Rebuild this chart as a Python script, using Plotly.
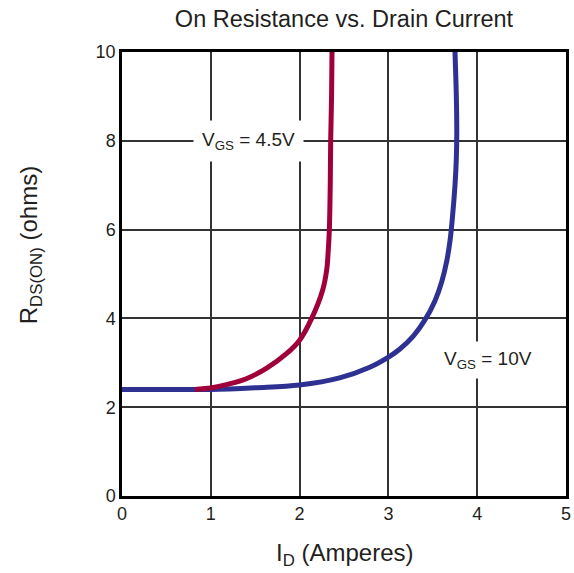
import plotly.graph_objects as go

# Data
blue_x = [0.0, 0.5, 1.0, 1.5, 2.0, 2.45, 2.79, 3.01, 3.13, 3.28, 3.41, 3.525, 3.60, 3.656, 3.694, 3.72, 3.75, 3.765, 3.77, 3.765, 3.75]
blue_y = [2.40, 2.40, 2.40, 2.44, 2.50, 2.66, 2.90, 3.14, 3.31, 3.60, 3.96, 4.40, 4.82, 5.28, 5.75, 6.25, 7.00, 7.60, 8.20, 9.00, 10.0]

red_x = [0.82, 1.01, 1.20, 1.40, 1.63, 1.855, 2.0, 2.136, 2.26, 2.305, 2.323, 2.335, 2.345, 2.35, 2.36, 2.365]
red_y = [2.40, 2.44, 2.52, 2.64, 2.88, 3.21, 3.51, 4.00, 4.64, 5.09, 5.54, 6.00, 7.00, 8.00, 9.00, 10.0]

x_ticks = [0, 1, 2, 3, 4, 5]
y_ticks = [0, 2, 4, 6, 8, 10]

FONT = "Liberation Sans, Arial, sans-serif"
TXT = "#231F20"
BLUE = "#2E3192"
RED = "#A0003A"

fig = go.Figure()
fig.add_trace(go.Scatter(x=blue_x, y=blue_y, mode="lines",
                         line=dict(color=BLUE, width=5, shape="spline", smoothing=1.0),
                         showlegend=False))
fig.add_trace(go.Scatter(x=red_x, y=red_y, mode="lines",
                         line=dict(color=RED, width=5, shape="spline", smoothing=1.0),
                         showlegend=False))

fig.update_layout(
    width=574, height=573,
    margin=dict(l=122, r=3, t=52, b=77),
    paper_bgcolor="white", plot_bgcolor="white",
    font=dict(family=FONT, color=TXT),
    title=dict(text="On Resistance vs. Drain Current", font=dict(size=23.5, family=FONT, color=TXT),
               x=0.5, xref="paper", xanchor="center", y=1 - 19 / 573, yref="container", yanchor="middle"),
    showlegend=False,
)
fig.update_xaxes(range=[0, 5], tickvals=x_ticks, ticktext=[str(v) for v in x_ticks],
                 showgrid=True, gridcolor="#333333", gridwidth=1.5,
                 showline=True, linecolor="black", linewidth=2.5, mirror=True,
                 ticks="", tickfont=dict(size=18, family=FONT, color=TXT), zeroline=False)
fig.update_yaxes(range=[0, 10], tickvals=y_ticks, ticktext=[str(v) for v in y_ticks],
                 showgrid=True, gridcolor="#333333", gridwidth=1.5,
                 showline=True, linecolor="black", linewidth=2.5, mirror=True,
                 ticks="", tickfont=dict(size=18, family=FONT, color=TXT), zeroline=False)

fig.add_annotation(x=1.42, y=8, xref="x", yref="y", text="V<sub>GS</sub> = 4.5V",
                   showarrow=False, bgcolor="white", borderpad=8,
                   font=dict(size=19, family=FONT, color=TXT))
fig.add_annotation(x=4.12, y=3.06, xref="x", yref="y", text="V<sub>GS</sub> = 10V",
                   showarrow=False, bgcolor="white", borderpad=6,
                   font=dict(size=19, family=FONT, color=TXT))

# axis titles
fig.add_annotation(x=0.5, y=-0.132, xref="paper", yref="paper", text="I<sub>D</sub> (Amperes)",
                   showarrow=False, yanchor="middle",
                   font=dict(size=24, family=FONT, color=TXT))
fig.add_annotation(x=-0.207, y=0.565, xref="paper", yref="paper", text="R<sub>DS(ON)</sub> (ohms)",
                   showarrow=False, textangle=-90, xanchor="center", yanchor="middle",
                   font=dict(size=24, family=FONT, color=TXT))

fig.write_html("out.html")
